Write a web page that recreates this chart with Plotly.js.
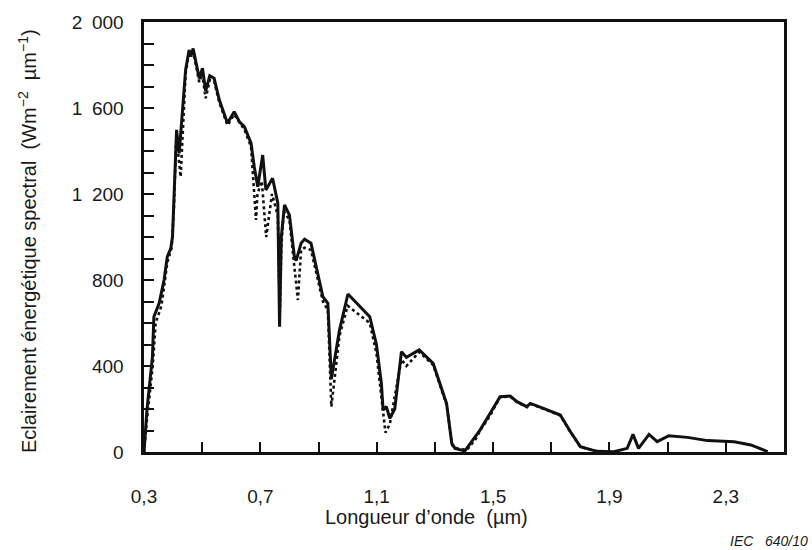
<!DOCTYPE html>
<html>
<head>
<meta charset="utf-8">
<script src="https://cdn.plot.ly/plotly-3.0.1.min.js"></script>
<style>html,body{margin:0;padding:0;background:#fff;}#chart{width:812px;height:550px;}</style>
</head>
<body>
<div id="chart"></div>
<script>
// Solid curve (wavelength in µm, irradiance in W m-2 µm-1)
const solidX = [0.300,0.302,0.310,0.329,0.334,0.352,0.369,0.380,0.392,0.398,0.403,0.409,0.412,0.421,0.432,0.443,0.455,0.461,0.469,0.480,0.490,0.501,0.512,0.526,0.541,0.559,0.587,0.610,0.628,0.645,0.668,0.679,0.691,0.708,0.719,0.742,0.760,0.766,0.772,0.783,0.800,0.817,0.823,0.840,0.852,0.874,0.892,0.915,0.932,0.944,0.972,1.001,1.076,1.099,1.116,1.122,1.133,1.145,1.162,1.185,1.202,1.246,1.294,1.340,1.358,1.369,1.403,1.455,1.490,1.524,1.559,1.582,1.616,1.628,1.673,1.731,1.766,1.800,1.857,1.915,1.961,1.981,2.000,2.036,2.064,2.104,2.168,2.237,2.329,2.386,2.444];
const solidY = [0,40,195,443,629,692,800,908,947,1001,1157,1420,1498,1389,1600,1777,1870,1839,1877,1808,1738,1785,1680,1750,1738,1637,1529,1583,1536,1513,1436,1327,1234,1381,1219,1273,1157,583,1000,1149,1102,908,890,971,990,971,862,722,692,340,567,735,629,500,319,195,211,157,200,467,440,475,412,226,40,17,5,102,180,257,260,234,211,226,203,172,94,25,3,1,17,82,17,82,48,76,68,53,48,33,2];

// Dotted curve
const dottedX = [0.300,0.310,0.330,0.340,0.360,0.380,0.395,0.403,0.410,0.415,0.426,0.443,0.455,0.469,0.480,0.490,0.500,0.512,0.526,0.541,0.559,0.587,0.610,0.645,0.668,0.685,0.690,0.705,0.720,0.740,0.760,0.767,0.772,0.780,0.800,0.829,0.840,0.852,0.874,0.892,0.915,0.932,0.944,0.972,1.000,1.076,1.099,1.130,1.145,1.185,1.202,1.246,1.294,1.340,1.360,1.380,1.410,1.440,1.460,1.490,1.524,1.559,1.582,1.616,1.628,1.673,1.731,1.766,1.800,1.857];
const dottedY = [0,150,400,600,680,880,950,1140,1440,1420,1280,1760,1860,1860,1790,1720,1760,1645,1730,1725,1625,1520,1570,1500,1420,1079,1200,1260,1000,1200,1100,650,950,1120,1080,707,940,950,940,840,700,660,211,540,680,600,460,90,130,430,400,465,405,220,30,15,10,60,110,170,255,258,232,209,224,201,170,92,24,3];

// Axis ticks and labels
const xTickVals = [0.3,0.5,0.7,0.9,1.1,1.3,1.5,1.7,1.9,2.1,2.3];
const xTickText = ['0,3','','0,7','','1,1','','1,5','','1,9','','2,3'];
const yTickVals = [0,100,200,300,400,500,600,700,800,900,1000,1100,1200,1300,1400,1500,1600,1700,1800,1900,2000];
const yTickText = ['0','','','','400','','','','800','','','','1\u2002200','','','','1\u2002600','','','','2\u2002000'];

const FONT = 'Liberation Sans, Arial, sans-serif';
const TXT = '#1a1a1a';

const traces = [
  {x: dottedX, y: dottedY, mode: 'lines', line: {color: '#111', width: 2.6, dash: 'dot'}, hoverinfo: 'skip'},
  {x: solidX, y: solidY, mode: 'lines', line: {color: '#111', width: 3}, hoverinfo: 'skip'}
];

const L = 144, W = 640, T = 22, H = 430;
const px = v => (v - L) / W;
const py = v => (T + H - v) / H;

const layout = {
  width: 812, height: 550,
  margin: {l: L, r: 812 - L - W, t: T, b: 550 - T - H},
  paper_bgcolor: '#fff', plot_bgcolor: '#fff',
  showlegend: false,
  font: {family: FONT, size: 19, color: TXT},
  xaxis: {
    range: [0.3, 2.5], showgrid: false, zeroline: false,
    showline: true, linecolor: '#111', linewidth: 2.6, mirror: true,
    tickmode: 'array', tickvals: xTickVals, ticktext: xTickText,
    ticks: 'inside', ticklen: 10, tickwidth: 2, tickcolor: '#111',
    ticklabelstandoff: 26,
    tickfont: {family: FONT, size: 19, color: TXT}
  },
  yaxis: {
    range: [0, 2000], showgrid: false, zeroline: false,
    showline: true, linecolor: '#111', linewidth: 2.6, mirror: true,
    tickmode: 'array', tickvals: yTickVals, ticktext: yTickText,
    ticks: 'inside', ticklen: 10, tickwidth: 2, tickcolor: '#111',
    ticklabelstandoff: 14,
    tickfont: {family: FONT, size: 19, color: TXT}
  },
  annotations: [
    {xref: 'paper', yref: 'paper', x: px(27), y: py(241), xanchor: 'center', yanchor: 'middle', showarrow: false, textangle: -90,
     text: 'Eclairement énergétique spectral  (Wm<sup>−2</sup>  µm<sup>−1</sup>)', font: {family: FONT, size: 20, color: TXT}},
    {xref: 'paper', yref: 'paper', x: px(426), y: py(517), xanchor: 'center', yanchor: 'middle', showarrow: false,
     text: 'Longueur d’onde  (µm)', font: {family: FONT, size: 20, color: TXT}},
    {xref: 'paper', yref: 'paper', x: px(810), y: py(541), xanchor: 'right', yanchor: 'middle', showarrow: false,
     text: '<i>IEC   640/10</i>', font: {family: FONT, size: 14, color: TXT}}
  ]
};

Plotly.newPlot('chart', traces, layout, {displayModeBar: false, staticPlot: true});
</script>
</body>
</html>
